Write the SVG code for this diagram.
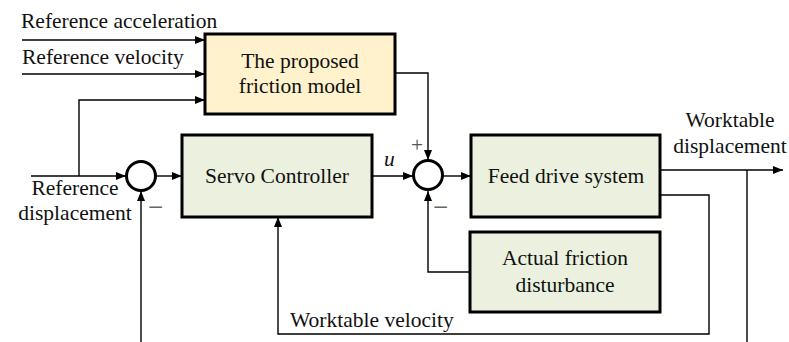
<svg xmlns="http://www.w3.org/2000/svg" width="789" height="342" viewBox="0 0 789 342">
  <style>
    .box { stroke: #000; stroke-width: 3; }
    .model { fill: #FFF2CC; }
    .plant { fill: #EBF1DE; }
    .sum { fill: #fff; stroke: #000; stroke-width: 3; }
    .wire { fill: none; stroke: #000; stroke-width: 1.4; }
    .arrow { marker-end: url(#head); }
    text { font-family: "Liberation Serif", "Times New Roman", serif; font-size: 21.5px; fill: #111; }
    .c { text-anchor: middle; }
    .sign { fill: #555; }
    .minus { fill: #666; font-size: 27px; }
  </style>
  <defs>
    <marker id="head" viewBox="0 0 10 8" refX="10" refY="4" markerWidth="10" markerHeight="8" markerUnits="userSpaceOnUse" orient="auto">
      <path d="M0,0 L10,4 L0,8 Z" fill="#000"/>
    </marker>
  </defs>

  <!-- connectors -->
  <g id="connectors">
    <path class="wire arrow" d="M22,40 H205"/>
    <path class="wire arrow" d="M22,74 H205"/>
    <path class="wire arrow" d="M79,176 V100 H205"/>
    <path class="wire arrow" d="M31,176 H126"/>
    <path class="wire arrow" d="M156,176 H182"/>
    <path class="wire arrow" d="M141,342 V191"/>
    <path class="wire arrow" d="M372,176 H413"/>
    <path class="wire arrow" d="M395,73 H428 V160"/>
    <path class="wire arrow" d="M443,176 H471"/>
    <path class="wire arrow" d="M470,272 H428 V191"/>
    <path class="wire arrow" d="M660,170 H783"/>
    <path class="wire" d="M747,170 V342"/>
    <path class="wire arrow" d="M660,195 H709 V334 H278 V217"/>
  </g>

  <!-- input labels -->
  <text x="21" y="28">Reference acceleration</text>
  <text x="22" y="64">Reference velocity</text>
  <text class="c" x="75" y="195">Reference</text>
  <text class="c" x="75" y="220">displacement</text>

  <g id="friction-model">
    <rect class="box model" x="205" y="34" width="190" height="80"/>
    <text class="c" x="300" y="68">The proposed</text>
    <text class="c" x="300" y="93">friction model</text>
  </g>

  <g id="sum-position">
    <circle class="sum" cx="141" cy="176" r="14.5"/>
    <text class="minus" x="148" y="216">−</text>
  </g>

  <g id="servo-controller">
    <rect class="box plant" x="182" y="135" width="190" height="82"/>
    <text class="c" x="277" y="183">Servo Controller</text>
  </g>

  <text x="384" y="166" font-style="italic">u</text>

  <g id="sum-force">
    <circle class="sum" cx="428" cy="175" r="14.5"/>
    <text class="sign" x="411" y="152">+</text>
    <text class="minus" x="433" y="216">−</text>
  </g>

  <g id="feed-drive">
    <rect class="box plant" x="471" y="135" width="189" height="82"/>
    <text class="c" x="566" y="183">Feed drive system</text>
  </g>

  <g id="actual-friction">
    <rect class="box plant" x="470" y="232" width="190" height="80"/>
    <text class="c" x="565" y="265">Actual friction</text>
    <text class="c" x="565" y="292">disturbance</text>
  </g>

  <text class="c" x="730" y="127">Worktable</text>
  <text class="c" x="730" y="153">displacement</text>
  <text x="290" y="327">Worktable velocity</text>
</svg>
